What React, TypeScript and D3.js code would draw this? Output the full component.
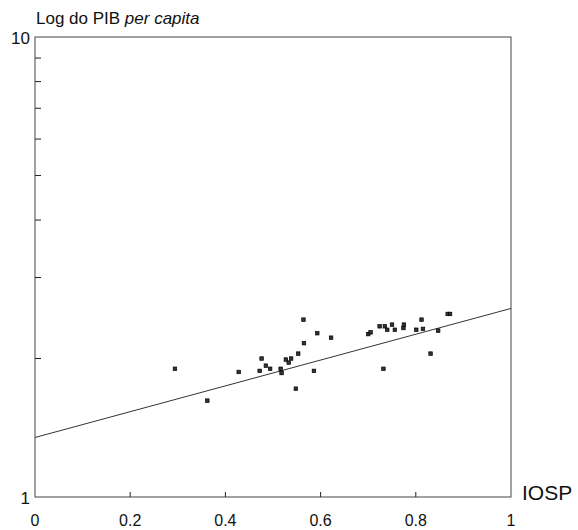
import React, { useRef, useEffect } from 'react';
import * as d3 from 'd3';

// IOSP (x) and GDP per capita (y, log scale)
const iosp = [
  0.294, 0.362, 0.428, 0.472, 0.476, 0.485, 0.494, 0.516, 0.518, 0.527,
  0.533, 0.538, 0.548, 0.553, 0.564, 0.565, 0.586, 0.593, 0.622, 0.700,
  0.705, 0.724, 0.735, 0.740, 0.732, 0.750, 0.756, 0.775, 0.774, 0.801,
  0.812, 0.815, 0.831, 0.847, 0.867, 0.872,
];
const pib = [
  1.90, 1.62, 1.87, 1.88, 2.00, 1.93, 1.90, 1.90, 1.86, 1.99,
  1.96, 2.00, 1.72, 2.05, 2.43, 2.16, 1.88, 2.27, 2.22, 2.26,
  2.28, 2.35, 2.35, 2.31, 1.90, 2.37, 2.31, 2.37, 2.33, 2.31,
  2.43, 2.32, 2.05, 2.30, 2.50, 2.50,
];

// fitted line endpoints
const fitX = [0, 1];
const fitY = [1.347, 2.57];

const xTicks = [0, 0.2, 0.4, 0.6, 0.8, 1];
const xTickLabels = ['0', '0.2', '0.4', '0.6', '0.8', '1'];
const yLabelTicks = [1, 10];
const yMinorTicks = [2, 3, 4, 5, 6, 7, 8, 9];

const title = 'Log do PIB ';
const titleItalic = 'per capita';
const xTitle = 'IOSP';

function ScatterChart({ width = 578, height = 530 }) {
  const svgRef = useRef(null);

  useEffect(() => {
    const svgEl = d3.select(svgRef.current);
    svgEl.selectAll('*').remove();

    const margin = { top: 37, right: 67, bottom: 33, left: 35 };
    const innerWidth = width - margin.left - margin.right;
    const innerHeight = height - margin.top - margin.bottom;
    const font = '"Liberation Sans", Arial, Helvetica, sans-serif';
    const ink = '#222';

    const xScale = d3.scaleLinear().domain([0, 1]).range([0, innerWidth]);
    const yScale = d3.scaleLog().domain([1, 10]).range([innerHeight, 0]);

    const svg = svgEl
      .attr('width', width)
      .attr('height', height)
      .append('g')
      .attr('transform', `translate(${margin.left},${margin.top})`);

    // frame
    svg.append('rect')
      .attr('x', 0)
      .attr('y', 0)
      .attr('width', innerWidth)
      .attr('height', innerHeight)
      .attr('fill', 'none')
      .attr('stroke', '#444')
      .attr('stroke-width', 1);

    // x ticks (inward) and labels
    svg.selectAll('.xtick')
      .data(xTicks.slice(1, -1))
      .enter()
      .append('line')
      .attr('x1', d => xScale(d))
      .attr('x2', d => xScale(d))
      .attr('y1', innerHeight)
      .attr('y2', innerHeight - 5)
      .attr('stroke', ink);

    svg.selectAll('.xlabel')
      .data(xTicks)
      .enter()
      .append('text')
      .attr('x', d => xScale(d))
      .attr('y', innerHeight + 29)
      .attr('text-anchor', 'middle')
      .style('font-family', font)
      .style('font-size', '16px')
      .attr('fill', '#111')
      .text((d, i) => xTickLabels[i]);

    // y minor ticks (inward)
    svg.selectAll('.ytick')
      .data(yMinorTicks)
      .enter()
      .append('line')
      .attr('x1', 0)
      .attr('x2', 6)
      .attr('y1', d => yScale(d))
      .attr('y2', d => yScale(d))
      .attr('stroke', ink);

    svg.selectAll('.ylabel')
      .data(yLabelTicks)
      .enter()
      .append('text')
      .attr('x', -5)
      .attr('y', d => yScale(d) + 7)
      .attr('text-anchor', 'end')
      .style('font-family', font)
      .style('font-size', '17px')
      .attr('fill', '#111')
      .text(d => String(d));

    // axis titles
    const t = svg.append('text')
      .attr('x', 1)
      .attr('y', -13)
      .style('font-family', font)
      .style('font-size', '17px')
      .attr('fill', '#111');
    t.append('tspan').text(title);
    t.append('tspan').style('font-style', 'italic').text(titleItalic);

    svg.append('text')
      .attr('x', innerWidth + 11)
      .attr('y', innerHeight + 3)
      .style('font-family', font)
      .style('font-size', '21px')
      .attr('fill', '#111')
      .text(xTitle);

    // fitted line
    const line = d3.line()
      .x((d, i) => xScale(fitX[i]))
      .y((d, i) => yScale(fitY[i]));

    svg.append('path')
      .datum(fitX)
      .attr('fill', 'none')
      .attr('stroke', '#333')
      .attr('stroke-width', 1)
      .attr('d', line);

    // points
    svg.selectAll('.dot')
      .data(iosp)
      .enter()
      .append('rect')
      .attr('class', 'dot')
      .attr('x', (d, i) => xScale(iosp[i]) - 1.75)
      .attr('y', (d, i) => yScale(pib[i]) - 1.75)
      .attr('width', 3.5)
      .attr('height', 3.5)
      .attr('fill', '#333')
      .attr('stroke', '#000')
      .attr('stroke-width', 0.7);
  }, [width, height]);

  return (
    <svg ref={svgRef} style={{ position: 'absolute', left: 0, top: 0, background: '#fff' }}></svg>
  );
}

export default function App() {
  return <ScatterChart />;
}
